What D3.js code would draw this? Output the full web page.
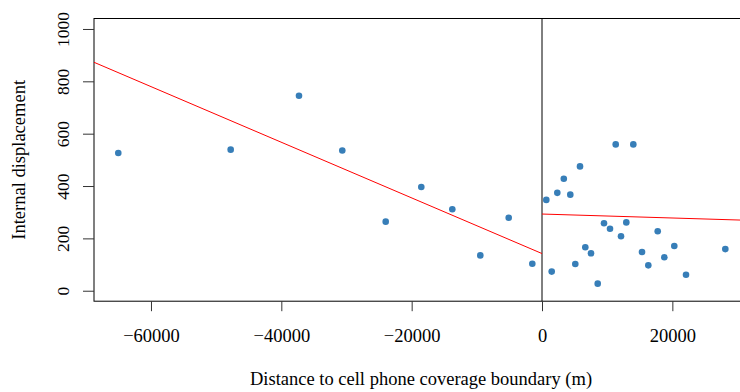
<!DOCTYPE html>
<html><head><meta charset="utf-8">
<script src="https://cdn.jsdelivr.net/npm/d3@7"></script>
<style>html,body{margin:0;padding:0;background:#fff;} svg{display:block;} text{font-family:'Liberation Serif','Times New Roman',serif;}</style>
</head><body>
<svg id="chart" width="740" height="392"></svg>
<script>
// Data (distance in m, internal displacement)
const distance = [-65017,-47769,-37288,-30644,-23984,-18521,-13764,-9468,-5110,-1488,
  660,1488,2348,3345,4343,5110,5831,6644,7519,8547,9514,10435,11309,12123,12936,14010,15345,16312,17754,18767,20301,22097,28128];
const displacement = [526,539,745,536,264,396,311,135,279,103,
  347,73,374,428,367,102,475,166,143,27,258,237,559,208,261,559,148,97,227,128,171,61,159];
const xTicks = [-60000,-40000,-20000,0,20000];
const yTicks = [0,200,400,600,800,1000];
const leftFit = {intercept: 142, slope: -0.01063};
const rightFit = {intercept: 293, slope: -0.000757};
const xDomain = [-68743, 31854];
const yDomain = [-40, 1040];
const xTitle = "Distance to cell phone coverage boundary (m)";
const yTitle = "Internal displacement";

const svg = d3.select("#chart");
const L = 94, R = 749.6, T = 18.5, B = 301.2;
const x = d3.scaleLinear().domain(xDomain).range([L, R]);
const y = d3.scaleLinear().domain(yDomain).range([B, T]);
const font = "'Liberation Serif','Times New Roman',serif";

// box (right side beyond view)
svg.append("rect").attr("x", L).attr("y", T).attr("width", R - L).attr("height", B - T)
  .attr("fill", "none").attr("stroke", "#000").attr("stroke-width", 1);

// cutoff line
svg.append("line").attr("x1", x(0)).attr("x2", x(0)).attr("y1", T).attr("y2", B)
  .attr("stroke", "#000").attr("stroke-width", 1);

// axes
const xAxis = d3.axisBottom(x).tickValues(xTicks).tickSize(10).tickPadding(17.5)
  .tickFormat(d => d < 0 ? "\u2212" + Math.abs(d) : String(d));
const gx = svg.append("g").attr("transform", `translate(0,${B})`).call(xAxis);
gx.attr("font-family", null).attr("font-size", null);
gx.select(".domain").remove();
gx.selectAll("text").style("font-family", font).style("font-size", "18.5px").attr("fill", "#000");
gx.selectAll("line").attr("stroke", "#333");

const yAxis = d3.axisLeft(y).tickValues(yTicks).tickSize(11).tickPadding(0).tickFormat(d => String(d));
const gy = svg.append("g").attr("transform", `translate(${L},0)`).call(yAxis);
gy.attr("font-family", null).attr("font-size", null);
gy.select(".domain").remove();
gy.selectAll("line").attr("stroke", "#333");
gy.selectAll("text").remove();
gy.selectAll(".tick").append("text")
  .attr("transform", "translate(-31,0) rotate(-90)")
  .attr("text-anchor", "middle").attr("dy", "0.35em")
  .style("font-family", font).style("font-size", "17.5px").attr("fill", "#000")
  .text(d => String(d));

// fit lines
svg.append("defs").append("clipPath").attr("id", "clip")
  .append("rect").attr("x", L).attr("y", T).attr("width", R - L).attr("height", B - T);
const fits = [
  {f: leftFit, x0: xDomain[0], x1: 0},
  {f: rightFit, x0: 0, x1: xDomain[1]}
];
svg.append("g").attr("clip-path", "url(#clip)").selectAll("line").data(fits).join("line")
  .attr("x1", d => x(d.x0)).attr("x2", d => x(d.x1))
  .attr("y1", d => y(d.f.intercept + d.f.slope * d.x0))
  .attr("y2", d => y(d.f.intercept + d.f.slope * d.x1))
  .attr("stroke", "#ff0000").attr("stroke-width", 1);

// points
svg.append("g").selectAll("circle").data(distance).join("circle")
  .attr("cx", d => x(d)).attr("cy", (d, i) => y(displacement[i]))
  .attr("r", 3.3).attr("fill", "#377eb8");

// titles
svg.append("text").attr("x", 421).attr("y", 385).attr("text-anchor", "middle")
  .style("font-family", font).style("font-size", "18.5px").attr("fill", "#000").text(xTitle);
svg.append("text").attr("transform", `translate(25,${(T + B) / 2}) rotate(-90)`)
  .attr("text-anchor", "middle")
  .style("font-family", font).style("font-size", "18.5px").attr("fill", "#000").text(yTitle);
</script>
</body></html>
